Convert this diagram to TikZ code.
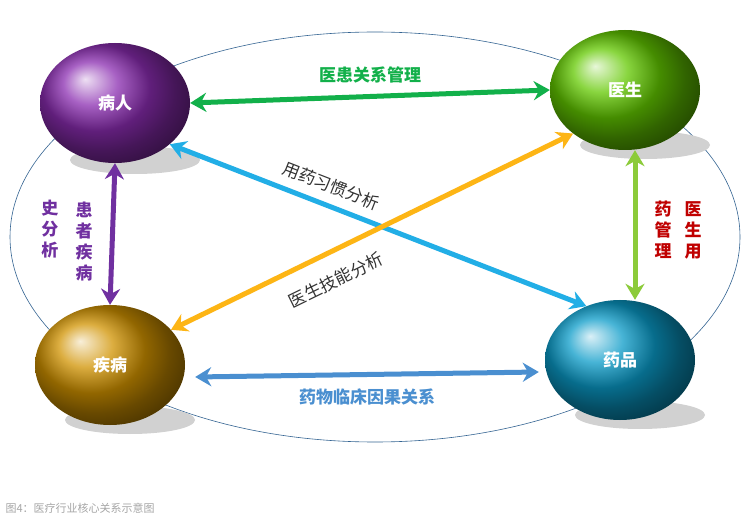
\documentclass[tikz,border=0pt]{standalone}
\usepackage{fontspec}
\setmainfont{Noto Sans CJK SC}
\usetikzlibrary{shapes.geometric,arrows.meta}
\definecolor{cpurple}{HTML}{8A2CB0}
\definecolor{cgreen}{HTML}{62C800}
\definecolor{cgold}{HTML}{D09200}
\definecolor{cteal}{HTML}{0A9BC8}
\definecolor{agreen}{HTML}{12B04A}
\definecolor{alime}{HTML}{8CCB3A}
\definecolor{ablue}{HTML}{4A8FD0}
\definecolor{acyan}{HTML}{22AEE6}
\definecolor{aorange}{HTML}{FDB515}
\definecolor{apurple}{HTML}{7030A0}
\definecolor{ared}{HTML}{C00000}
\tikzset{
  ball/.style={ellipse,minimum width=150pt,minimum height=120pt,inner sep=0pt,
    shading=ball,ball color=#1,text=white,font=\bfseries\fontsize{17}{19}\selectfont},
  shade/.style={fill=black!18,draw=none},
  link/.style={line width=5pt,{Stealth[length=16pt,width=19pt]}-{Stealth[length=16pt,width=19pt]},draw=#1},
  lbl/.style={font=\bfseries\fontsize{17}{19}\selectfont,text=#1},
  slbl/.style={font=\fontsize{17}{19}\selectfont,text=black!80},
  vlbl/.style={font=\bfseries\fontsize{17}{21}\selectfont,text=#1,align=center,inner sep=0pt}
}
\begin{document}
\begin{tikzpicture}[x=1pt,y=-1pt]
\useasboundingbox (0,0) rectangle (750,521);
\fill[white] (0,0) rectangle (750,521);
\draw[ablue!70!black,line width=0.6pt] (375,237) ellipse [x radius=365pt,y radius=205pt];
% shadows
\fill[shade] (135,160) ellipse [x radius=65pt,y radius=14pt];
\fill[shade] (645,145) ellipse [x radius=65pt,y radius=14pt];
\fill[shade] (130,420) ellipse [x radius=65pt,y radius=14pt];
\fill[shade] (640,415) ellipse [x radius=65pt,y radius=14pt];
% balls
\node[ball=cpurple] (br) at (115,103) {病人};
\node[ball=cgreen] (ys) at (625,90) {医生};
\node[ball=cgold] (jb) at (110,365) {疾病};
\node[ball=cteal] (yp) at (620,360) {药品};
% connectors
\draw[link=agreen] (br.east) -- (ys.west) node[midway,above=8pt,lbl=agreen] {医患关系管理};
\draw[link=ablue] ([xshift=10pt,yshift=-12pt]jb.east) -- ([xshift=-6pt,yshift=-12pt]yp.west)
  node[midway,below=8pt,lbl=ablue] {药物临床因果关系};
\draw[link=apurple] (br.south) -- (jb.north);
\draw[link=alime] ([xshift=10pt]ys.south) -- ([xshift=15pt]yp.north);
\draw[link=acyan] (br.-37) -- (yp.122)
  node[pos=0.37,above=6pt,sloped,slbl] {用药习惯分析};
\draw[link=aorange] (jb.30) -- (ys.-140)
  node[pos=0.38,below=14pt,sloped,slbl] {医生技能分析};
% vertical labels
\node[vlbl=apurple] (t1) at (84,242) {患\\者\\疾\\病};
\node[vlbl=apurple] (t2) at (50,229) {史\\分\\析};
\node[vlbl=ared] (t3) at (693,230) {医\\生\\用};
\node[vlbl=ared] (t4) at (663,230) {药\\管\\理};
% caption
\node[anchor=west,font=\fontsize{11}{13}\selectfont,text=black!35] (cap) at (2,508) {图4：医疗行业核心关系示意图};
\end{tikzpicture}
\end{document}
